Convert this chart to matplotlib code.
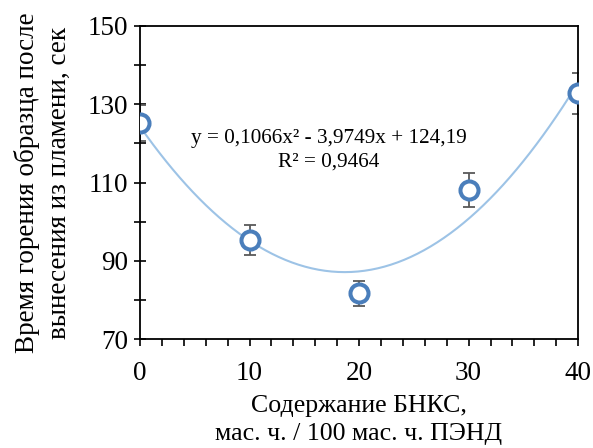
import matplotlib
matplotlib.use('Agg')
import matplotlib.pyplot as plt
import numpy as np

plt.rcParams['font.family'] = ['Liberation Serif', 'DejaVu Serif']

# data
content = [0, 10, 20, 30, 40]
burn_time = [125.2, 95.3, 81.7, 108.1, 132.8]
burn_err = [4.7, 3.8, 3.2, 4.3, 5.2]
equation = 'y = 0,1066x² - 3,9749x + 124,19\nR² = 0,9464'
y_major = [70, 90, 110, 130, 150]
y_minor = [80, 100, 120, 140]

fig = plt.figure(figsize=(5.93, 4.48), dpi=100)
ax = fig.add_axes([0.236, 0.243, 0.739, 0.699])

# polynomial trend line (2nd order) fitted to the points
coef = np.polyfit(content, burn_time, 2)
xs = np.linspace(min(content), max(content), 200)
ax.plot(xs, np.polyval(coef, xs), color='#9DC3E6', linewidth=1.5, zorder=1)

ax.errorbar(content, burn_time, yerr=burn_err, fmt='none', ecolor='#595959',
            elinewidth=1.3, capsize=4.3, capthick=1.3, zorder=2)
ax.plot(content, burn_time, 'o', markersize=13, markerfacecolor='white',
        markeredgecolor='#4A7EBB', markeredgewidth=2.9, linestyle='none', zorder=3)

ax.text(17.2, 118.3, equation, ha='center', va='center', multialignment='center',
        fontsize=15.3, linespacing=1.35)

ax.set_xlim(0, 40)
ax.set_ylim(70, 150)
ax.set_xticks([0, 10, 20, 30, 40])
ax.set_xticks(np.arange(0, 41, 2), minor=True)
ax.set_yticks(y_major)
ax.set_yticks(y_minor, minor=True)
ax.tick_params(axis='x', which='both', direction='out', length=5, width=1.2,
               labelsize=19.5, pad=11)
ax.tick_params(axis='y', which='both', direction='inout', length=9, width=1.2,
               labelsize=19.5, pad=4)
for s in ax.spines.values():
    s.set_linewidth(1.3)

ax.set_xlabel('Содержание БНКС,\nмас. ч. / 100 мас. ч. ПЭНД', fontsize=18.6,
              linespacing=1.4, labelpad=6)
ax.set_ylabel('Время горения образца после\nвынесения из пламени, сек', fontsize=19.5,
              linespacing=1.4, labelpad=11)

fig.savefig('out.png', dpi=100)
